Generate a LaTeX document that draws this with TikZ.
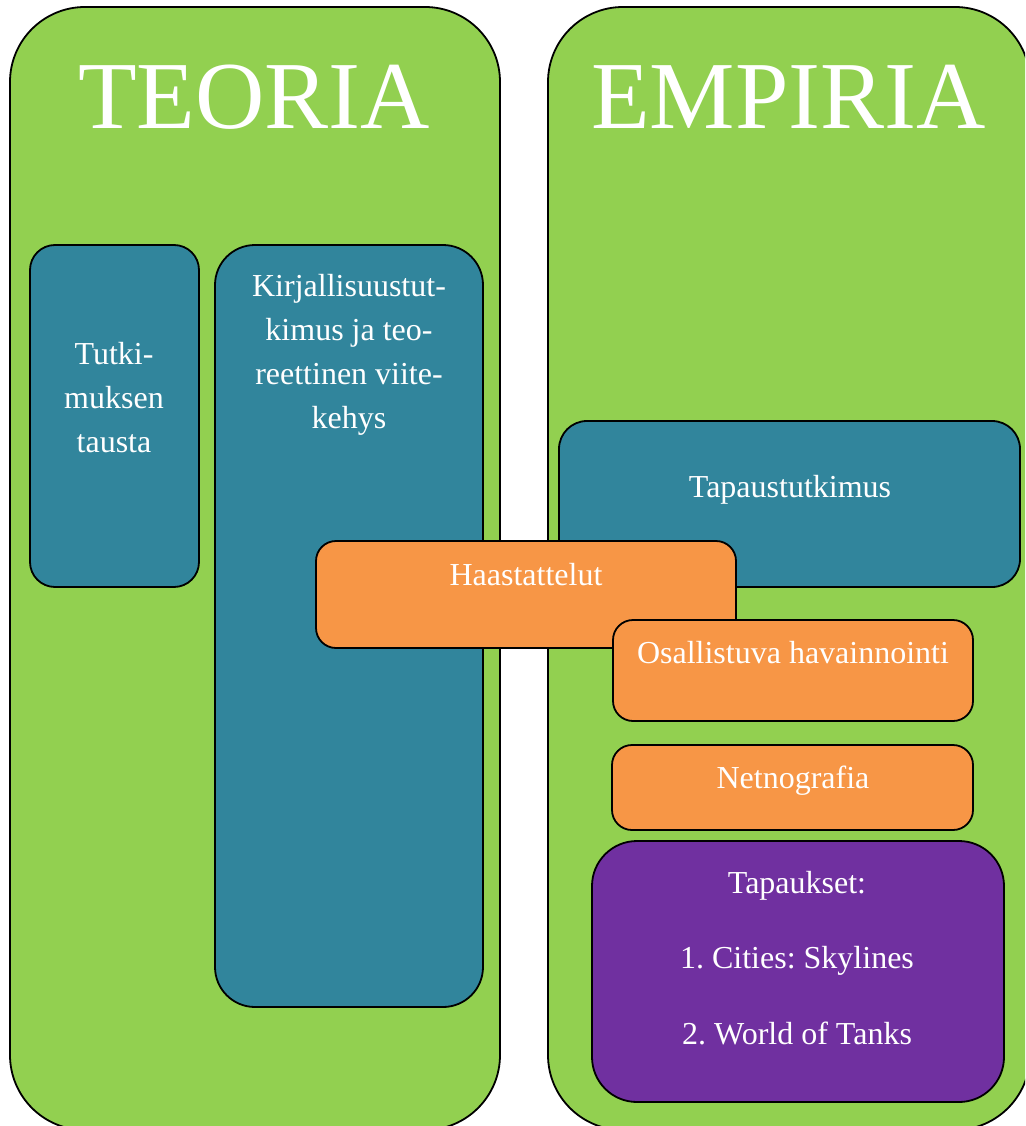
\documentclass[tikz,border=0pt]{standalone}
\usepackage{fontspec}
\setmainfont{Liberation Serif}
\frenchspacing
\definecolor{panelgreen}{HTML}{92D050}
\definecolor{boxteal}{HTML}{31859C}
\definecolor{boxorange}{HTML}{F79646}
\definecolor{boxpurple}{HTML}{7030A0}
\begin{document}
\begin{tikzpicture}[x=1pt,y=-1pt,
  card/.style={draw=black, line width=1.8pt, inner sep=0pt, outer sep=0pt, rectangle},
  title/.style={text=white, inner sep=0pt, anchor=base, font=\fontsize{96}{110}\selectfont},
  label/.style={text=white, inner sep=0pt, anchor=base, align=center, font=\fontsize{32}{44}\selectfont}
]
\useasboundingbox (0,0) rectangle (1025,1126);
\clip (0,0) rectangle (1025,1126);

% two large panels
\node[card, fill=panelgreen, rounded corners=75pt, minimum width=490pt, minimum height=1123pt] (teoria) at (255,568.5) {};
\node[card, fill=panelgreen, rounded corners=75pt, minimum width=482pt, minimum height=1123pt] (empiria) at (789,568.5) {};
\node[title] (teoriaT) at (254,129) {TEORIA};
\node[title] (empiriaT) at (788.5,129) {EMPIRIA};

% theory boxes (multi-line labels sit on the baseline of their last line)
\node[card, fill=boxteal, rounded corners=25pt, minimum width=169pt, minimum height=342pt] (tausta) at (114.5,416) {};
\node[label] (taustaT) at (114,452) {Tutki-\\muksen\\tausta};
\node[card, fill=boxteal, rounded corners=40pt, minimum width=268pt, minimum height=762pt] (kirj) at (349,626) {};
\node[label] (kirjT) at (349,428) {Kirjallisuustut-\\kimus ja teo-\\reettinen viite-\\kehys};

% empirical boxes
\node[card, fill=boxteal, rounded corners=28pt, minimum width=461pt, minimum height=166pt] (tapaus) at (789.5,504) {};
\node[label] (tapausT) at (790,497) {Tapaustutkimus};
\node[card, fill=boxorange, rounded corners=20pt, minimum width=420pt, minimum height=107pt] (haast) at (526,594.5) {};
\node[label] (haastT) at (526,585) {Haastattelut};
\node[card, fill=boxorange, rounded corners=20pt, minimum width=360pt, minimum height=101pt] (osall) at (793,670.5) {};
\node[label] (osallT) at (793,663) {Osallistuva havainnointi};
\node[card, fill=boxorange, rounded corners=20pt, minimum width=361pt, minimum height=85pt] (netno) at (792.5,787.5) {};
\node[label] (netnoT) at (793,788) {Netnografia};
\node[card, fill=boxpurple, rounded corners=45pt, minimum width=412pt, minimum height=261pt] (tapaukset) at (798,971.5) {};
\node[label, font=\fontsize{32}{75.5}\selectfont] (tapauksetT) at (797,1044) {Tapaukset:\\1. Cities: Skylines\\2. World of Tanks};
\end{tikzpicture}
\end{document}
